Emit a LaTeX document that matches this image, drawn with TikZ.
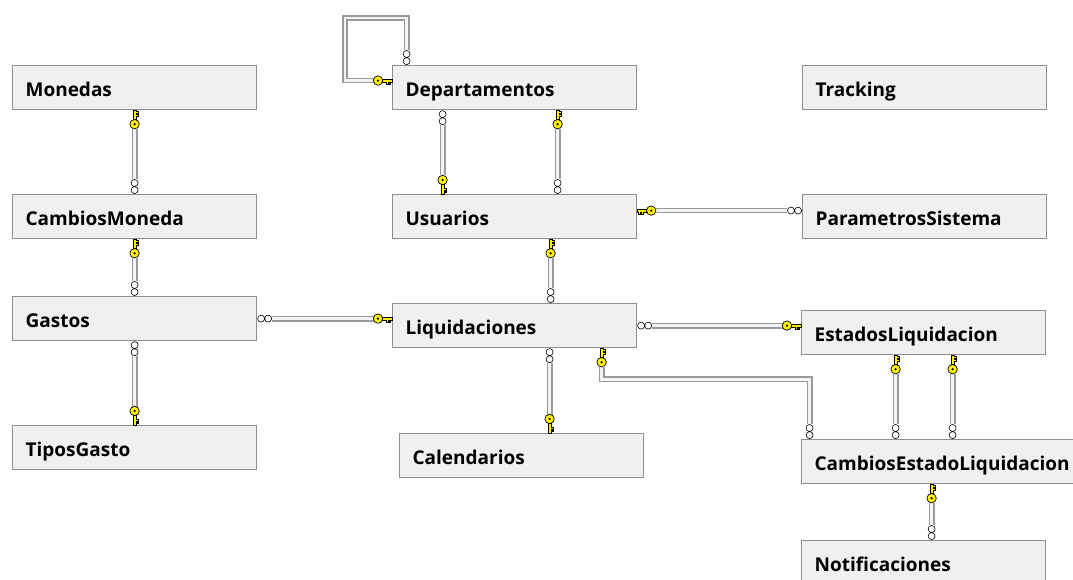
\documentclass[tikz,border=0pt]{standalone}
\usepackage{fontspec}
\newfontfamily\tablefont{Open Sans}
\usetikzlibrary{calc}

\definecolor{boxfill}{HTML}{F0F0F0}
\definecolor{boxline}{HTML}{8E8E8E}
\definecolor{pipe}{HTML}{9A9A9A}
\definecolor{pipecore}{HTML}{F4F4F4}
\definecolor{keyyellow}{HTML}{FFF200}

\tikzset{
  tbl/.style={draw=boxline, line width=1.2pt, fill=boxfill, anchor=north west,
    inner xsep=13pt, inner ysep=0pt, text width=218pt, minimum height=44pt,
    align=left, text height=17pt, text depth=0pt,
    font=\tablefont\bfseries\fontsize{19}{22}\selectfont},
  rel/.style={draw=pipe, line width=1.6pt, double=pipecore, double distance=2.6pt},
  k2m/.style={shorten <=18.5pt, shorten >=15pt},
  m2k/.style={shorten <=15pt, shorten >=18.5pt},
  % local frames for the end symbols: x runs away from the table, y is the teeth side
  fdown/.style={x={(0pt,-1pt)}, y={(1pt,0pt)}},
  fup/.style={x={(0pt,1pt)}, y={(1pt,0pt)}},
  fright/.style={x={(1pt,0pt)}, y={(0pt,-1pt)}},
  fleft/.style={x={(-1pt,0pt)}, y={(0pt,-1pt)}},
}

% "one" end of a relationship: a yellow key
\newcommand\fkkey[2]{%
  \begin{scope}[shift={(#1)},#2]
    \filldraw[fill=keyyellow, draw=black, line width=0.5pt]
      (0,-1.2) -- (9.5,-1.2) -- (9.5,1.2) -- (5.6,1.2) -- (5.6,3.8) -- (4,3.8)
      -- (4,1.2) -- (2.9,1.2) -- (2.9,3.8) -- (1.3,3.8) -- (1.3,1.2) -- (0,1.2) -- cycle;
    \filldraw[fill=keyyellow, draw=black, line width=0.7pt] (14,0) circle[radius=4.7];
    \fill (14,0) circle[radius=1.2];
  \end{scope}}

% "many" end of a relationship: an infinity sign
\newcommand\fkmany[2]{%
  \begin{scope}[shift={(#1)},#2]
    \filldraw[fill=white, draw=black, line width=0.6pt]
      (3.9,0) circle[radius=3.5] (11,0) circle[radius=3.5];
  \end{scope}}

\begin{document}
\begin{tikzpicture}[x=1pt, y=-1pt]
  \useasboundingbox (0,0) rectangle (1073,580);
  \fill[white] (0,0) rectangle (1073,580);
  \clip (0,0) rectangle (1073,580);

  % tables
  \node[tbl] (mon)  at (12,65)   {Monedas};
  \node[tbl] (cmon) at (12,194)  {CambiosMoneda};
  \node[tbl] (gas)  at (12,296)  {Gastos};
  \node[tbl] (tip)  at (12,425)  {TiposGasto};
  \node[tbl] (dep)  at (392,65)  {Departamentos};
  \node[tbl] (usr)  at (392,194) {Usuarios};
  \node[tbl] (liq)  at (392,303) {Liquidaciones};
  \node[tbl] (cal)  at (399,433) {Calendarios};
  \node[tbl] (trk)  at (802,65)  {Tracking};
  \node[tbl] (par)  at (802,194) {ParametrosSistema};
  \node[tbl] (est)  at (801,310) {EstadosLiquidacion};
  \node[tbl, text width=274pt] (cel) at (801,439) {CambiosEstadoLiquidacion};
  \node[tbl] (ntf)  at (801,540) {Notificaciones};

  % attachment points
  \coordinate (dl) at ([yshift=7pt]dep.west);
  \coordinate (d0) at ([xshift=-108pt]dep.north);
  \coordinate (loopc) at (345,18);
  \coordinate (d1) at ([xshift=-72pt]dep.south);
  \coordinate (d2) at ([xshift=43pt]dep.south);
  \coordinate (ue) at ([yshift=6pt]usr.east);
  \coordinate (u1) at ([xshift=36pt]usr.south);
  \coordinate (l1) at ([xshift=35pt]liq.south);
  \coordinate (l2) at ([xshift=87pt]liq.south);
  \coordinate (lb) at ($(l2)+(0,31)$);
  \coordinate (c0) at ([xshift=-142pt]cel.north);
  \coordinate (e1) at ([xshift=-28pt]est.south);
  \coordinate (e2) at ([xshift=29pt]est.south);
  \coordinate (c1) at ([xshift=-20pt]cel.south);

  % relationships
  \draw[rel,k2m] (mon.south) -- (cmon.north);
  \draw[rel,k2m] (cmon.south) -- (gas.north);
  \draw[rel,m2k] (gas.south) -- (tip.north);
  \draw[rel,m2k] (gas.east) -- (gas.east -| liq.west);
  \draw[rel,k2m] (dl) -| (loopc) -| (d0);
  \draw[rel,m2k] (d1) -- (d1 |- usr.north);
  \draw[rel,k2m] (d2) -- (d2 |- usr.north);
  \draw[rel,k2m] (ue) -- (ue -| par.west);
  \draw[rel,k2m] (u1) -- (u1 |- liq.north);
  \draw[rel,m2k] (l1) -- (l1 |- cal.north);
  \draw[rel,m2k] (liq.east) -- (liq.east -| est.west);
  \draw[rel,k2m] (l2) -- (lb) -| (c0);
  \draw[rel,k2m] (e1) -- (e1 |- cel.north);
  \draw[rel,k2m] (e2) -- (e2 |- cel.north);
  \draw[rel,k2m] (c1) -- (c1 |- ntf.north);

  % relationship ends
  \fkkey{mon.south}{fdown}          \fkmany{cmon.north}{fup}
  \fkkey{cmon.south}{fdown}         \fkmany{gas.north}{fup}
  \fkmany{gas.south}{fdown}         \fkkey{tip.north}{fup}
  \fkmany{gas.east}{fright}         \fkkey{gas.east -| liq.west}{fleft}
  \fkkey{dl}{fleft}                 \fkmany{d0}{fup}
  \fkmany{d1}{fdown}                \fkkey{d1 |- usr.north}{fup}
  \fkkey{d2}{fdown}                 \fkmany{d2 |- usr.north}{fup}
  \fkkey{ue}{fright}                \fkmany{ue -| par.west}{fleft}
  \fkkey{u1}{fdown}                 \fkmany{u1 |- liq.north}{fup}
  \fkmany{l1}{fdown}                \fkkey{l1 |- cal.north}{fup}
  \fkmany{liq.east}{fright}         \fkkey{liq.east -| est.west}{fleft}
  \fkkey{l2}{fdown}                 \fkmany{c0}{fup}
  \fkkey{e1}{fdown}                 \fkmany{e1 |- cel.north}{fup}
  \fkkey{e2}{fdown}                 \fkmany{e2 |- cel.north}{fup}
  \fkkey{c1}{fdown}                 \fkmany{c1 |- ntf.north}{fup}
\end{tikzpicture}
\end{document}
